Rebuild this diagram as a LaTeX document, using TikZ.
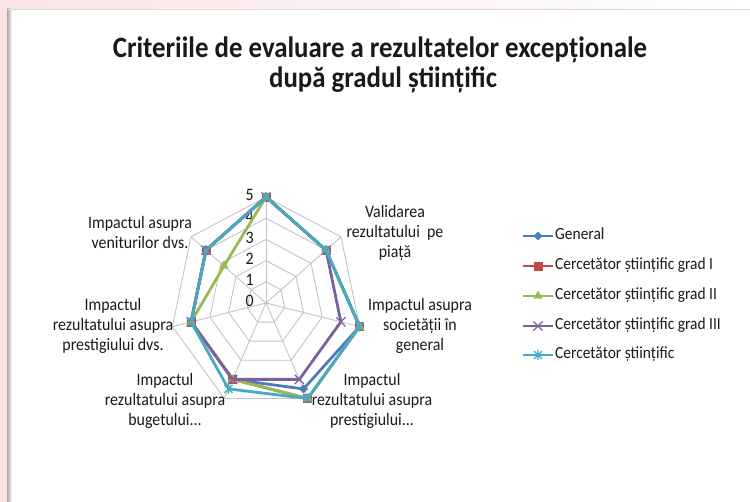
\documentclass[tikz,border=0pt]{standalone}
\usepackage{fontspec}
\usepackage{graphicx}
\setmainfont{Carlito}
\usetikzlibrary{shapes.geometric,shapes.misc}
\definecolor{bgpink}{HTML}{F9E4E4}
\definecolor{gridgray}{HTML}{C4C4C4}
\definecolor{genblue}{HTML}{4A7EBB}
\definecolor{redc}{HTML}{BE4B48}
\definecolor{greenc}{HTML}{98B954}
\definecolor{purplec}{HTML}{7D60A0}
\definecolor{cyanc}{HTML}{46AAC5}
\definecolor{txtc}{HTML}{1A1A1A}
\newcommand\sqz[1]{\scalebox{0.91}[1]{\begin{tabular}{@{}c@{}}#1\end{tabular}}}
\tikzset{
  gridline/.style={draw=gridgray, line width=0.9pt},
  serline/.style={line width=2.8pt, line join=round},
  diamondmk/.style={diamond, fill=genblue, draw=genblue, inner sep=0pt, minimum size=8.5pt},
  squaremk/.style={rectangle, fill=redc, draw=redc, inner sep=0pt, minimum size=8pt},
  trimk/.style={regular polygon, regular polygon sides=3, fill=greenc, draw=greenc, inner sep=0pt, minimum size=10pt},
  crossmk/.style={cross out, draw=purplec, line width=1.2pt, inner sep=0pt, minimum size=8pt},
  astmk/.pic={\draw[cyanc, line width=1.2pt] (-4,-4)--(4,4) (-4,4)--(4,-4) (0,-5)--(0,5);},
  lbl/.style={font=\fontsize{17.5}{20}\selectfont, text=txtc, inner sep=0pt},
  leglbl/.style={font=\fontsize{17}{20}\selectfont, text=txtc, inner sep=0pt, anchor=west},
  titlefont/.style={font=\fontsize{29.5}{30}\selectfont\bfseries, text=black!90, inner sep=0pt, anchor=base},
}
\begin{document}
\begin{tikzpicture}[x=1pt,y=-1pt]
\useasboundingbox (0,0) rectangle (750,502);
% background
\fill[bgpink] (0,0) rectangle (750,502);
\shade[left color=bgpink, right color=white] (0,0) rectangle (750,9);
\fill[white] (7,9) rectangle (750,502);
\shade[left color=black!35, right color=white] (7,9) rectangle (12,502);
\draw[black!15, line width=0.8pt] (7,9.4) -- (750,9.4);

% title
\node[titlefont] (t1) at (380,58) {\scalebox{0.91}[1]{Criteriile de evaluare a rezultatelor excepționale}};
\node[titlefont] (t2) at (383,88) {\scalebox{0.91}[1]{după gradul științific}};

% grid
\coordinate (ctr) at (266,303);
\foreach \r in {1,...,5}{
  \foreach \k in {0,...,6}{
    \coordinate (g\r-\k) at ({266+19.2*\r*cos(90-360/7*\k)},{303-21.2*\r*sin(90-360/7*\k)});
  }
  \draw[gridline] (g\r-0) -- (g\r-1) -- (g\r-2) -- (g\r-3) -- (g\r-4) -- (g\r-5) -- (g\r-6) -- cycle;
}
\foreach \k in {0,...,6} \draw[gridline] (ctr) -- (g5-\k);

% tick labels
\foreach \v in {0,...,5} \node[lbl, anchor=east, name=tick\v] at (254,{303-21.2*\v}) {\sqz{\v}};

% category labels
\node[lbl] (c1) at (395,234) {\sqz{Validarea\\rezultatului\ \ pe\\piață}};
\node[lbl] (c2) at (420,327) {\sqz{Impactul asupra\\societății în\\general}};
\node[lbl] (c3) at (372,402) {\sqz{Impactul\\rezultatului asupra\\prestigiului...}};
\node[lbl] (c4) at (165,402) {\sqz{Impactul\\rezultatului asupra\\bugetului...}};
\node[lbl] (c5) at (113,327) {\sqz{Impactul\\rezultatului asupra\\prestigiului dvs.}};
\node[lbl] (c6) at (140,235) {\sqz{Impactul asupra\\veniturilor dvs.}};

% series: General
\foreach \k/\v in {0/5,1/4,2/5,3/4.5,4/4,5/4,6/4}
  \coordinate (gen\k) at ({266+19.2*\v*cos(90-360/7*\k)},{303-21.2*\v*sin(90-360/7*\k)});
\draw[serline, genblue] (gen0) -- (gen1) -- (gen2) -- (gen3) -- (gen4) -- (gen5) -- (gen6) -- cycle;
\foreach \k in {0,...,6} \node[diamondmk, name=genm\k] at (gen\k) {};

% series: grad I
\foreach \k/\v in {0/5,1/4,2/5,3/5,4/4,5/4,6/4}
  \coordinate (ga\k) at ({266+19.2*\v*cos(90-360/7*\k)},{303-21.2*\v*sin(90-360/7*\k)});
\draw[serline, redc] (ga0) -- (ga1) -- (ga2) -- (ga3) -- (ga4) -- (ga5) -- (ga6) -- cycle;
\foreach \k in {0,...,6} \node[squaremk, name=gam\k] at (ga\k) {};

% series: grad II
\foreach \k/\v in {0/5,1/4,2/5,3/5,4/4,5/4,6/2.8}
  \coordinate (gb\k) at ({266+19.2*\v*cos(90-360/7*\k)},{303-21.2*\v*sin(90-360/7*\k)});
\draw[serline, greenc] (gb0) -- (gb1) -- (gb2) -- (gb3) -- (gb4) -- (gb5) -- (gb6) -- cycle;
\foreach \k in {0,...,6} \node[trimk, name=gbm\k] at (gb\k) {};

% series: grad III
\foreach \k/\v in {0/5,1/4,2/4,3/4,4/4,5/4,6/4}
  \coordinate (gc\k) at ({266+19.2*\v*cos(90-360/7*\k)},{303-21.2*\v*sin(90-360/7*\k)});
\draw[serline, purplec] (gc0) -- (gc1) -- (gc2) -- (gc3) -- (gc4) -- (gc5) -- (gc6) -- cycle;
\foreach \k in {0,...,6} \node[crossmk, name=gcm\k] at (gc\k) {};

% series: Cercetator stiintific
\foreach \k/\v in {0/5,1/4,2/5,3/5,4/4.5,5/4,6/4}
  \coordinate (cs\k) at ({266+19.2*\v*cos(90-360/7*\k)},{303-21.2*\v*sin(90-360/7*\k)});
\draw[serline, cyanc] (cs0) -- (cs1) -- (cs2) -- (cs3) -- (cs4) -- (cs5) -- (cs6) -- cycle;
\foreach \k in {0,...,6} \pic at (cs\k) {astmk};

% legend
\foreach \i/\y in {1/236,2/266,3/296,4/326,5/355}{
  \coordinate (la\i) at (523,\y);
  \coordinate (lb\i) at (553,\y);
  \coordinate (lm\i) at (538,\y);
}
\draw[serline, genblue] (la1) -- (lb1);
\node[diamondmk, name=lgm1] at (lm1) {};
\draw[serline, redc] (la2) -- (lb2);
\node[squaremk, name=lgm2] at (lm2) {};
\draw[serline, greenc] (la3) -- (lb3);
\node[trimk, name=lgm3] at (lm3) {};
\draw[serline, purplec] (la4) -- (lb4);
\node[crossmk, name=lgm4] at (lm4) {};
\draw[serline, cyanc] (la5) -- (lb5);
\pic at (lm5) {astmk};

\node[leglbl] (lt1) at (555,236) {\sqz{General}};
\node[leglbl] (lt2) at (555,266) {\sqz{Cercetător științific grad I}};
\node[leglbl] (lt3) at (555,296) {\sqz{Cercetător științific grad II}};
\node[leglbl] (lt4) at (555,326) {\sqz{Cercetător științific grad III}};
\node[leglbl] (lt5) at (555,355) {\sqz{Cercetător științific}};
\end{tikzpicture}
\end{document}
